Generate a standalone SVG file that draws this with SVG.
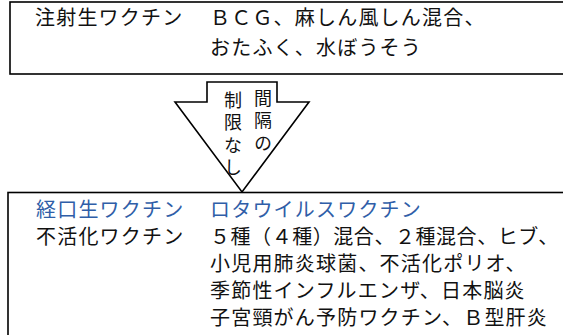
<svg xmlns="http://www.w3.org/2000/svg" width="563" height="335" viewBox="0 0 563 335">
<style>
.box{fill:#fff;stroke:#000;stroke-width:1.6}
.t{font-family:"Noto Sans CJK JP","Noto Sans",sans-serif;font-size:20px;letter-spacing:1.2px;fill:#111}
.b{fill:#2f5ea8}
.n{letter-spacing:0.55px}
.v{font-family:"Noto Sans CJK JP","Noto Sans",sans-serif;font-size:18px;fill:#111;writing-mode:vertical-rl;letter-spacing:4.5px}
</style>
<rect width="563" height="335" fill="#fff"/>
<g id="node-live-injection">
<rect class="box" x="10" y="2" width="570" height="72"/>
<text class="t" x="35" y="25">注射生ワクチン</text>
<text class="t" x="210" y="25">ＢＣＧ、麻しん風しん混合、</text>
<text class="t" x="210" y="55">おたふく、水ぼうそう</text>
</g>
<g id="node-oral-inactivated">
<rect class="box" x="8" y="192.5" width="570" height="160"/>
<text class="t b" x="36" y="217">経口生ワクチン</text>
<text class="t b" x="210" y="217">ロタウイルスワクチン</text>
<text class="t" x="36" y="244">不活化ワクチン</text>
<text class="t n" x="210" y="244">５種（４種）混合、２種混合、ヒブ、</text>
<text class="t" x="210" y="271">小児用肺炎球菌、不活化ポリオ、</text>
<text class="t" x="210" y="298">季節性インフルエンザ、日本脳炎</text>
<text class="t" x="210" y="325">子宮頸がん予防ワクチン、Ｂ型肝炎</text>
</g>
<g id="connectors">
<g id="arrow-no-interval-limit">
<polygon class="box" points="207,82 277,82 277,102 309,102 242,192 175,102 207,102"/>
<text class="v" x="263" y="89">間隔の</text>
<text class="v" x="233" y="91">制限なし</text>
</g>
</g>
</svg>
